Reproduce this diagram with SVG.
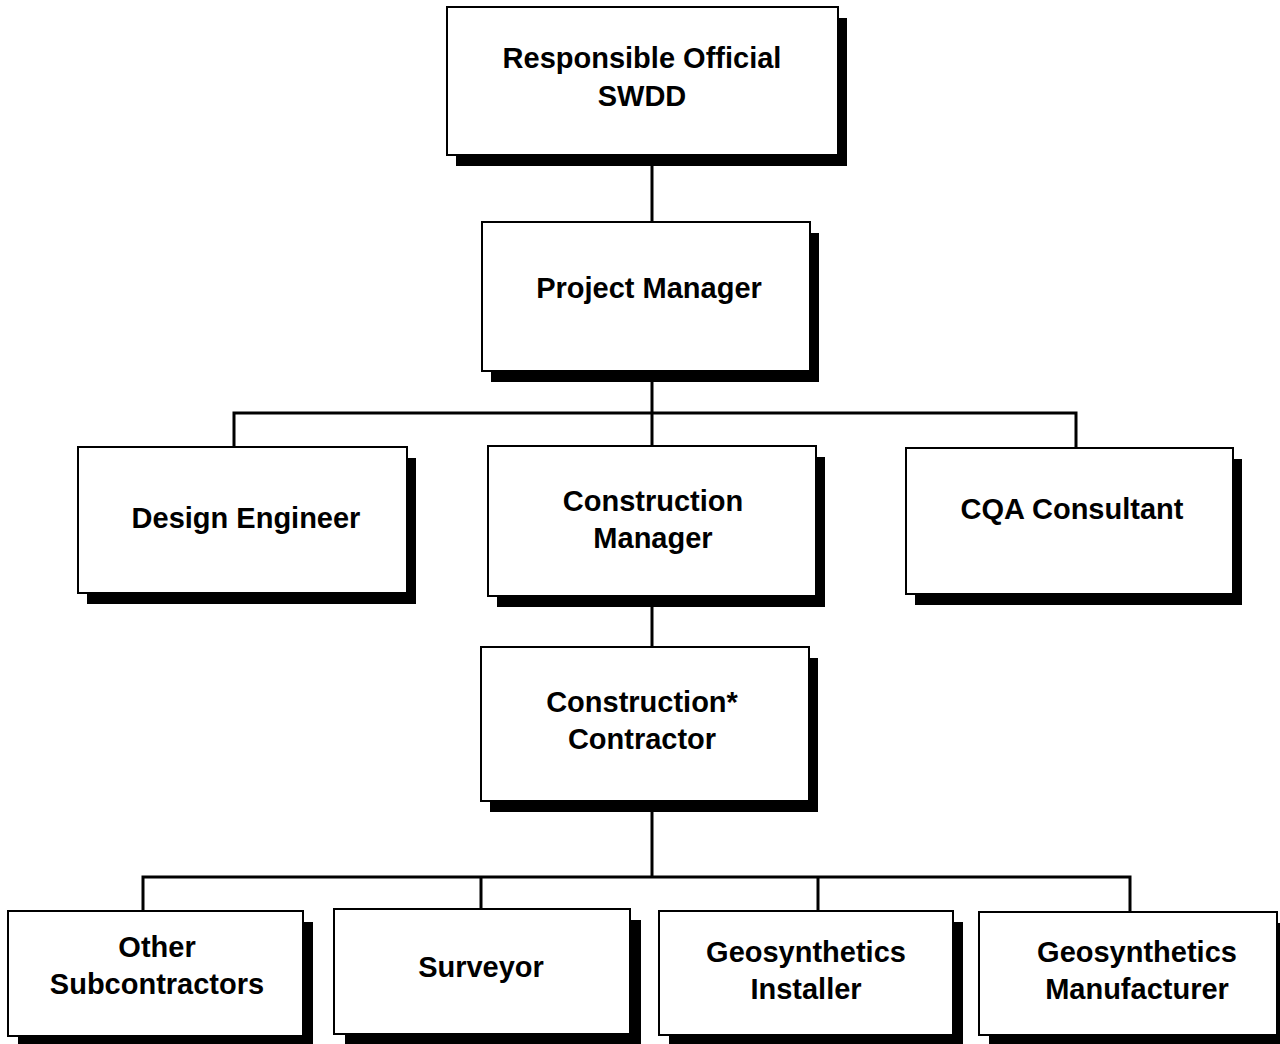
<svg xmlns="http://www.w3.org/2000/svg" width="1280" height="1044" viewBox="0 0 1280 1044">
<style>
.box{fill:#fff;stroke:#000;stroke-width:2}
.sh{fill:#000}
.t{font-family:"Liberation Sans",Arial,sans-serif;font-weight:bold;font-size:29px;fill:#000;text-anchor:middle}
.c{stroke:#000;stroke-width:3;fill:none}
</style>
<rect width="1280" height="1044" fill="#fff"/>
<g id="connectors">
<line class="c" x1="652" y1="155" x2="652" y2="222"/>
<line class="c" x1="652" y1="371" x2="652" y2="446"/>
<polyline class="c" points="234,447 234,413 1076,413 1076,448"/>
<line class="c" x1="652" y1="596" x2="652" y2="647"/>
<line class="c" x1="652" y1="801" x2="652" y2="877"/>
<polyline class="c" points="143,911 143,877 1130,877 1130,911"/>
<line class="c" x1="481" y1="877" x2="481" y2="909"/>
<line class="c" x1="818" y1="877" x2="818" y2="911"/>
</g>
<g id="responsible-official">
<rect class="sh" x="456" y="18" width="391" height="148"/>
<rect class="box" x="447" y="7" width="391" height="148"/>
<text class="t" x="642" y="68">Responsible Official</text>
<text class="t" x="642" y="106">SWDD</text>
</g>
<g id="project-manager">
<rect class="sh" x="491" y="233" width="328" height="149"/>
<rect class="box" x="482" y="222" width="328" height="149"/>
<text class="t" x="649" y="298">Project Manager</text>
</g>
<g id="design-engineer">
<rect class="sh" x="87" y="458" width="329" height="146"/>
<rect class="box" x="78" y="447" width="329" height="146"/>
<text class="t" x="246" y="528">Design Engineer</text>
</g>
<g id="construction-manager">
<rect class="sh" x="497" y="457" width="328" height="150"/>
<rect class="box" x="488" y="446" width="328" height="150"/>
<text class="t" x="653" y="511">Construction</text>
<text class="t" x="653" y="548">Manager</text>
</g>
<g id="cqa-consultant">
<rect class="sh" x="915" y="459" width="327" height="146"/>
<rect class="box" x="906" y="448" width="327" height="146"/>
<text class="t" x="1072" y="519">CQA Consultant</text>
</g>
<g id="construction-contractor">
<rect class="sh" x="490" y="658" width="328" height="154"/>
<rect class="box" x="481" y="647" width="328" height="154"/>
<text class="t" x="642" y="712">Construction*</text>
<text class="t" x="642" y="749">Contractor</text>
</g>
<g id="other-subcontractors">
<rect class="sh" x="18" y="922" width="295" height="125"/>
<rect class="box" x="8" y="911" width="295" height="125"/>
<text class="t" x="157" y="957">Other</text>
<text class="t" x="157" y="994">Subcontractors</text>
</g>
<g id="surveyor">
<rect class="sh" x="345" y="920" width="296" height="125"/>
<rect class="box" x="334" y="909" width="296" height="125"/>
<text class="t" x="481" y="977">Surveyor</text>
</g>
<g id="geosynthetics-installer">
<rect class="sh" x="669" y="922" width="294" height="124"/>
<rect class="box" x="659" y="911" width="294" height="124"/>
<text class="t" x="806" y="962">Geosynthetics</text>
<text class="t" x="806" y="999">Installer</text>
</g>
<g id="geosynthetics-manufacturer">
<rect class="sh" x="989" y="923" width="298" height="124"/>
<rect class="box" x="979" y="912" width="298" height="123"/>
<text class="t" x="1137" y="962">Geosynthetics</text>
<text class="t" x="1137" y="999">Manufacturer</text>
</g>
</svg>
